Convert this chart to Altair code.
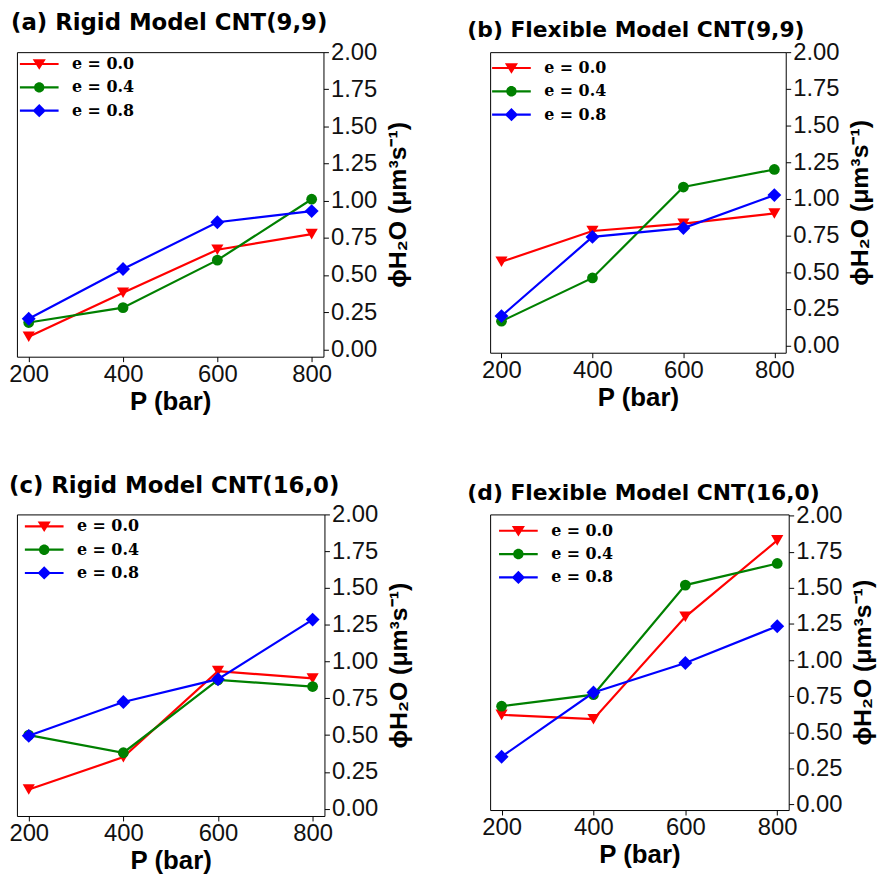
import altair as alt
import pandas as pd

pressure = [200, 400, 600, 800]
series_names = ["e = 0.0", "e = 0.4", "e = 0.8"]
colors = ["#ff0000", "#008000", "#0000ff"]
x_ticks = [200, 400, 600, 800]
y_ticks = [0.0, 0.25, 0.5, 0.75, 1.0, 1.25, 1.5, 1.75, 2.0]

titles = [
    "(a) Rigid Model CNT(9,9)",
    "(b) Flexible Model CNT(9,9)",
    "(c) Rigid Model CNT(16,0)",
    "(d) Flexible Model CNT(16,0)",
]

a_e00 = [0.085, 0.38, 0.67, 0.775]
a_e04 = [0.18, 0.28, 0.60, 1.01]
a_e08 = [0.205, 0.54, 0.855, 0.93]

b_e00 = [0.57, 0.78, 0.83, 0.90]
b_e04 = [0.165, 0.46, 1.08, 1.20]
b_e08 = [0.20, 0.74, 0.80, 1.025]

c_e00 = [0.13, 0.35, 0.935, 0.885]
c_e04 = [0.50, 0.38, 0.875, 0.83]
c_e08 = [0.495, 0.725, 0.88, 1.285]

d_e00 = [0.62, 0.59, 1.30, 1.83]
d_e04 = [0.68, 0.76, 1.52, 1.67]
d_e08 = [0.33, 0.775, 0.98, 1.235]

marker_shapes = ["triangle-down", "circle", "diamond"]
marker_sizes = [150, 118, 196]

LINE = "M-1.625,-0.09H1.625V0.09H-1.625Z"
legend_paths = [
    LINE + "M-0.55,-0.4L0.55,-0.4L0,0.48Z",
    LINE + "M-0.44,0A0.44,0.44,0,1,1,0.44,0A0.44,0.44,0,1,1,-0.44,0Z",
    LINE + "M0,-0.56L0.56,0L0,0.56L-0.56,0Z",
]


def panel(title, vals, w, h, ydom, tdx, toff, tsize, lx, ly):
    df = pd.DataFrame({
        "P": pressure * 3,
        "phi": vals[0] + vals[1] + vals[2],
        "series": [s for s in series_names for _ in pressure],
    })
    xenc = alt.X(
        "P:Q",
        scale=alt.Scale(domain=[175, 825], nice=False, zero=False),
        axis=alt.Axis(
            values=x_ticks, title="P (bar)", domain=False, grid=False,
            tickSize=5, tickColor="black", tickWidth=1,
            labelFont="Liberation Sans", labelFontSize=24, labelColor="#111111",
            labelPadding=1, labelFlush=False, labelOverlap=False,
            titleFont="Liberation Sans", titleFontWeight="bold", titleFontSize=26,
            titleColor="black", titlePadding=2,
        ),
    )
    yenc = alt.Y(
        "phi:Q",
        scale=alt.Scale(domain=ydom, nice=False, zero=False),
        axis=alt.Axis(
            orient="right", values=y_ticks, format=".2f",
            title="ϕH₂O (μm³s⁻¹)", titleAngle=270, titleBaseline="top",
            titleAlign="center",
            domain=False, grid=False,
            tickSize=5, tickColor="black", tickWidth=1,
            labelFont="Liberation Sans", labelFontSize=24, labelColor="#111111",
            labelPadding=2, labelFlush=False, labelOverlap=False,
            titleFont="Liberation Sans", titleFontWeight="bold", titleFontSize=25,
            titleColor="black", titlePadding=9,
        ),
    )
    base = alt.Chart(df).encode(x=xenc, y=yenc)
    layers = []
    for name, col, shp, sz in zip(series_names, colors, marker_shapes, marker_sizes):
        sub = base.transform_filter(alt.datum.series == name)
        layers.append(sub.mark_line(color=col, strokeWidth=2.2))
        layers.append(sub.mark_point(shape=shp, color=col, filled=True, size=sz,
                                     opacity=1, strokeWidth=0))
    leg = alt.Legend(
        title=None, orient="none", legendX=lx, legendY=ly, padding=0,
        symbolSize=576, symbolStrokeWidth=0, symbolOpacity=1,
        labelFont="DejaVu Serif", labelFontWeight="bold", labelFontSize=16,
        labelColor="black", labelOffset=21, rowPadding=3.5,
    )
    legend_layer = base.transform_filter("false").mark_point(
        filled=True, opacity=1, size=576
    ).encode(
        color=alt.Color("series:N", scale=alt.Scale(domain=series_names, range=colors), legend=leg),
        shape=alt.Shape("series:N", scale=alt.Scale(domain=series_names, range=legend_paths), legend=leg),
    )
    return alt.layer(*layers, legend_layer).properties(
        width=w, height=h,
        title=alt.TitleParams(
            text=title, anchor="start", frame="group", dx=tdx, offset=toff,
            baseline="alphabetic", font="DejaVu Sans", fontSize=tsize,
            fontWeight="bold", color="black",
        ),
    )


pa = panel(titles[0], [a_e00, a_e04, a_e08], 309, 307, [-0.05, 2.0], -6, -13, 23, 10.5, 0)
pb = panel(titles[1], [b_e00, b_e04, b_e08], 298, 303, [-0.05, 2.0], -23, -19, 22, 9.5, 4)
pc = panel(titles[2], [c_e00, c_e04, c_e08], 310, 304, [-0.05, 2.0], -8, -13, 23, 15.5, 0)
pd_ = panel(titles[3], [d_e00, d_e04, d_e08], 301, 298, [-0.04, 2.01], -23, -18, 22, 16.5, 4.5)

chart = alt.concat(
    pa, pb, pc, pd_, columns=2,
    spacing={"row": 159, "column": 167}, bounds="flush",
).resolve_scale(
    color="independent", shape="independent", x="independent", y="independent"
).resolve_legend(
    color="independent", shape="independent"
).properties(
    padding=0, background="white"
).configure_view(
    stroke="black", strokeWidth=1
)

chart.save("out.html", embed_options={"renderer": "svg", "actions": False})
